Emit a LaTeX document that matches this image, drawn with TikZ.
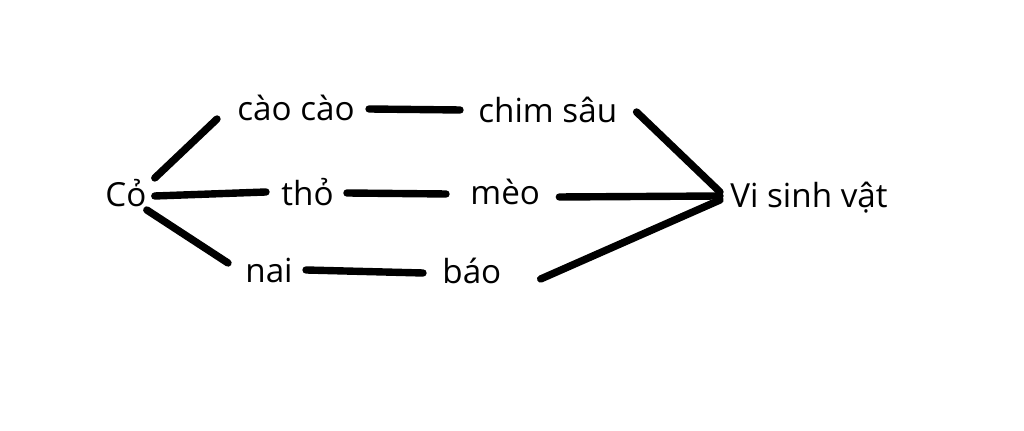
\documentclass[tikz,border=0pt]{standalone}
\usepackage{fontspec}
\setmainfont{Open Sans}
\usetikzlibrary{positioning}

\tikzset{
  taxon/.style={inner sep=0pt,anchor=base west,font=\fontsize{16.6}{20}\selectfont},
  link/.style={line width=3.7pt,line cap=round},
}

\begin{document}
\begin{tikzpicture}[x=0.5pt,y=-0.5pt]
\useasboundingbox (0,0) rectangle (1024,431);

\node[taxon] (co)   at (105,207) {Cỏ};
\node[taxon] (cao)  at (237,121) {cào cào};
\node[taxon] (tho)  at (281,206) {thỏ};
\node[taxon] (nai)  at (245,283) {nai};
\node[taxon] (chim) at (478,123) {chim sâu};
\node[taxon] (meo)  at (470,205) {mèo};
\node[taxon] (bao)  at (442,284) {báo};
\node[taxon] (vsv)  at (730,208) {Vi sinh vật};

% co -> first level
\draw[link] ([shift={(8,-29)}]co.base east) -- ([shift={(-20,-2)}]cao.base west);
\draw[link] ([shift={(8,-11)}]co.base east) -- ([shift={(-15,-14)}]tho.base west);
\draw[link] ([shift={(0,3)}]co.base east) -- ([shift={(-17,-20)}]nai.base west);

% second level
\draw[link] ([shift={(14,-12)}]cao.base east) -- ([shift={(-18,-13)}]chim.base west);
\draw[link] ([shift={(13,-13)}]tho.base east) -- ([shift={(-24,-11)}]meo.base west);
\draw[link] ([shift={(13,-13)}]nai.base east) -- ([shift={(-19,-11)}]bao.base west);

% decomposers
\draw[link] ([shift={(19,-11)}]chim.base east) -- ([shift={(-10,-16)}]vsv.base west);
\draw[link] ([shift={(19,-8)}]meo.base east) -- ([shift={(-10,-12)}]vsv.base west);
\draw[link] ([shift={(39,-5)}]bao.base east) -- ([shift={(-10,-8)}]vsv.base west);
\end{tikzpicture}
\end{document}
